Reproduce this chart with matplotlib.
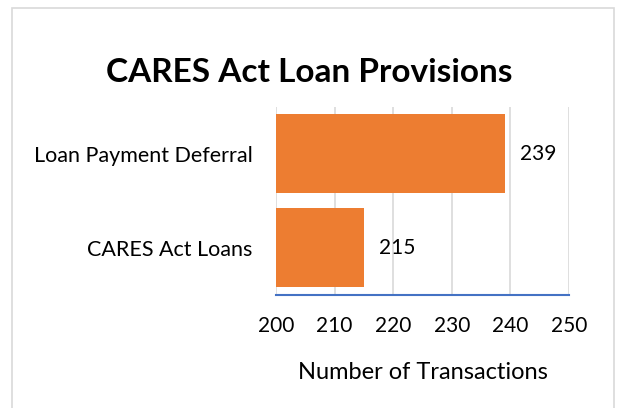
import matplotlib
matplotlib.use('Agg')
from matplotlib import pyplot as plt
from matplotlib.patches import Rectangle

categories = ['CARES Act Loans', 'Loan Payment Deferral']
transactions = [215, 239]
xticks = [200, 210, 220, 230, 240, 250]

plt.rcParams['font.family'] = ['Lato', 'DejaVu Sans']

fig = plt.figure(figsize=(6.18, 4.08), dpi=100)
fig.patches.append(Rectangle((12 / 618, -0.05), 602 / 618, 1.05 - 8.5 / 408,
                             transform=fig.transFigure, fill=False,
                             edgecolor='#D9D9D9', linewidth=1.2))

ax = fig.add_axes([276 / 618, 1 - 295 / 408, 293 / 618, 188.5 / 408])

bars = ax.barh(range(len(categories)), transactions, height=0.84, color='#ED7D31', zorder=2)
ax.bar_label(bars, labels=[str(v) for v in transactions], padding=11, fontsize=15)

ax.set_xlim(200, 250)
ax.set_ylim(-0.5, 1.5)
ax.set_xticks(xticks)
ax.set_xticklabels([str(t) for t in xticks], fontsize=15)
ax.set_yticks(range(len(categories)))
ax.set_yticklabels(categories, fontsize=15.5)
ax.tick_params(axis='x', length=0, pad=15)
ax.tick_params(axis='y', length=0, pad=17)
ax.grid(axis='x', color='#D9D9D9', linewidth=1.2, zorder=0)
ax.set_axisbelow(True)
for s in ['top', 'right', 'left']:
    ax.spines[s].set_visible(False)
ax.spines['bottom'].set_color('#4472C4')
ax.spines['bottom'].set_linewidth(1.5)
ax.spines['bottom'].set_zorder(3)

ax.set_xlabel('Number of Transactions', fontsize=17, labelpad=19)
fig.text(309 / 618, 1 - 72 / 408, 'CARES Act Loan Provisions', fontsize=24,
         fontweight='bold', ha='center', va='center')

fig.savefig('out.png', dpi=100)
